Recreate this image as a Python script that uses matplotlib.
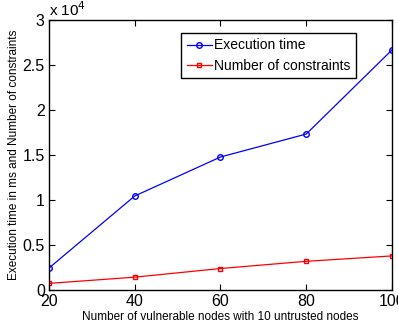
import matplotlib
matplotlib.use("Agg")
import matplotlib.pyplot as plt

plt.rcParams['font.family'] = ['Liberation Sans', 'DejaVu Sans']

nodes = [20, 40, 60, 80, 100]
exec_time = [2450, 10450, 14780, 17330, 26670]
constraints = [750, 1440, 2400, 3200, 3800]
yticks = [0, 5000, 10000, 15000, 20000, 25000, 30000]
ytick_labels = ['0', '0.5', '1', '1.5', '2', '2.5', '3']

fig = plt.figure(figsize=(3.98, 3.26), dpi=100)
ax = fig.add_axes([0.123, 0.110, 0.862, 0.829])
ax.plot(nodes, exec_time, color='blue', marker='o', markersize=4, markerfacecolor='none',
        linewidth=0.9, label='Execution time')
ax.plot(nodes, constraints, color='red', marker='s', markersize=3.5, markerfacecolor='none',
        linewidth=0.9, label='Number of constraints')
ax.set_xlim(20, 100)
ax.set_ylim(0, 30000)
ax.set_xticks(nodes)
ax.set_yticks(yticks)
ax.set_yticklabels(ytick_labels)
ax.tick_params(direction='in', labelsize=11.5, length=4, top=True, right=True, pad=3)
for s in ax.spines.values():
    s.set_linewidth(1.0)
ax.text(0.0, 1.005, r'x 10$^4$', transform=ax.transAxes, fontsize=11, ha='left', va='bottom')
ax.set_xlabel('Number of vulnerable nodes with 10 untrusted nodes', fontsize=8.5, labelpad=1)
ax.set_ylabel('Execution time in ms and Number of constraints', fontsize=8.5, labelpad=2)
leg = ax.legend(loc='upper left', bbox_to_anchor=(0.385, 0.952), fontsize=10, frameon=True,
                fancybox=False, edgecolor='black', framealpha=1, handlelength=1.8,
                borderpad=0.4, labelspacing=0.45, handletextpad=0.2, borderaxespad=0)
leg.get_frame().set_linewidth(1.0)
fig.savefig('out.png', dpi=100)
